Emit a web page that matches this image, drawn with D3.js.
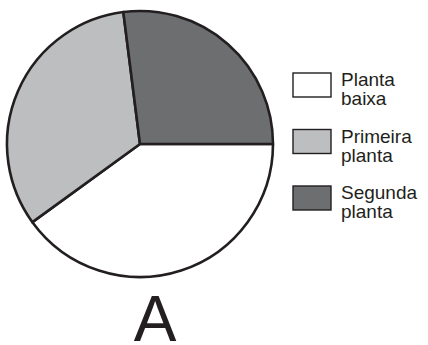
<!DOCTYPE html>
<html>
<head>
<meta charset="utf-8">
<script src="https://cdn.jsdelivr.net/npm/d3@7"></script>
<style>
  html, body { margin: 0; padding: 0; background: #ffffff; }
  svg { display: block; }
  text { font-family: "Liberation Sans", Arial, Helvetica, sans-serif; fill: #231f20; }
</style>
</head>
<body>
<svg id="chart" width="428" height="345"></svg>
<script>
// Floor shares of the house (percent)
const categories = ["Planta baixa", "Primeira planta", "Segunda planta"];
const legendLines = [["Planta", "baixa"], ["Primeira", "planta"], ["Segunda", "planta"]];
const values = [40, 33, 27];
const fills = ["#ffffff", "#bcbec0", "#6d6e70"];
const title = "A";

const svg = d3.select("#chart");
const cx = 140, cy = 144, radius = 133;
const ink = "#231f20";

// Pie starts at 3 o'clock and runs clockwise
const pie = d3.pie()
  .sort(null)
  .value(d => d)
  .startAngle(Math.PI / 2)
  .endAngle(Math.PI / 2 + 2 * Math.PI);

const arc = d3.arc().innerRadius(0).outerRadius(radius);

const color = d3.scaleOrdinal().domain(categories).range(fills);

const g = svg.append("g").attr("transform", `translate(${cx},${cy})`);
g.selectAll("path")
  .data(pie(values))
  .join("path")
  .attr("d", arc)
  .attr("fill", (d, i) => color(categories[i]))
  .attr("stroke", ink)
  .attr("stroke-width", 2.6)
  .attr("stroke-linejoin", "round");

// Legend
const legendY = d3.scalePoint().domain(categories).range([73, 186]);
const leg = svg.append("g");
const items = leg.selectAll("g")
  .data(categories)
  .join("g")
  .attr("transform", d => `translate(293,${legendY(d)})`);

items.append("rect")
  .attr("x", 0).attr("y", 0)
  .attr("width", 38).attr("height", 24)
  .attr("fill", d => color(d))
  .attr("stroke", ink)
  .attr("stroke-width", 1.4);

items.each(function(d, i) {
  const t = d3.select(this).append("text")
    .attr("x", 48).attr("y", 13)
    .attr("font-size", 19);
  legendLines[i].forEach((line, j) => {
    t.append("tspan").attr("x", 48).attr("dy", j === 0 ? 0 : 19).text(line);
  });
});

// Chart label
svg.append("text")
  .attr("x", 155)
  .attr("y", 341)
  .attr("text-anchor", "middle")
  .attr("font-size", 64)
  .text(title);
</script>
</body>
</html>
